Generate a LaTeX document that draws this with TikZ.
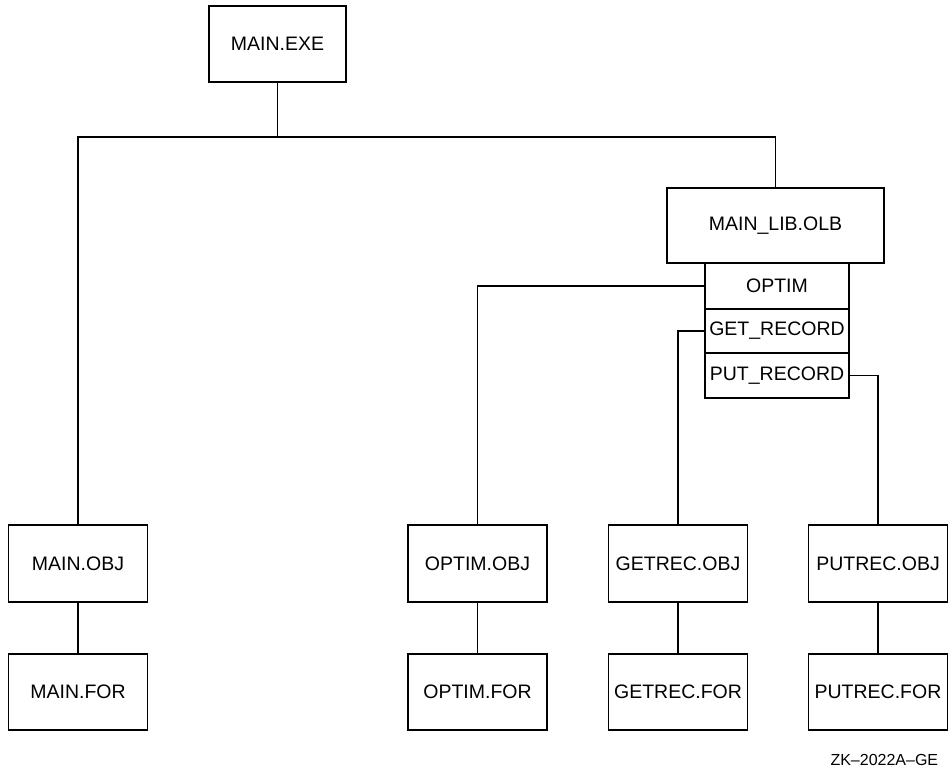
\documentclass[tikz,border=0pt]{standalone}
\usepackage{fontspec}
\setmainfont{Liberation Sans}
\begin{document}
\begin{tikzpicture}[x=1pt,y=-1pt,
  line width=1.7pt,
  box/.style={draw, rectangle, inner sep=0pt, font=\fontsize{19.5}{22}\selectfont},
  filebox/.style={box, minimum width=139pt, minimum height=77pt},
  member/.style={box, minimum width=144pt},
  link/.style={draw, line width=1.7pt}]
  \useasboundingbox (0,0) rectangle (949,770);

  % top-level image and library
  \node[box, minimum width=137pt, minimum height=76pt] (exe) at (277.5,44) {MAIN.EXE};
  \node[box, minimum width=217pt, minimum height=75pt] (lib) at (775.5,225.5) {MAIN\_LIB.OLB};

  % library modules
  \node[member, minimum height=46pt] (optim) at (777,286) {OPTIM};
  \node[member, minimum height=44pt] (getrec) at (777,331) {GET\_RECORD};
  \node[member, minimum height=45pt] (putrec) at (777,375.5) {PUT\_RECORD};

  % object files
  \node[filebox] (mainobj)  at (78,563.5)  {MAIN.OBJ};
  \node[filebox] (optimobj) at (477.5,563.5) {OPTIM.OBJ};
  \node[filebox] (getobj)   at (678,563.5) {GETREC.OBJ};
  \node[filebox] (putobj)   at (878,563.5) {PUTREC.OBJ};

  % source files
  \node[filebox, minimum height=76pt] (mainfor)  at (78,692)  {MAIN.FOR};
  \node[filebox, minimum height=76pt] (optimfor) at (477.5,692) {OPTIM.FOR};
  \node[filebox, minimum height=76pt] (getfor)   at (678,692) {GETREC.FOR};
  \node[filebox, minimum height=76pt] (putfor)   at (878,692) {PUTREC.FOR};

  % connectors
  \coordinate (bus) at (277.5,137);
  \draw[link] (exe.south) -- (bus);
  \draw[link] (mainobj.north) |- (bus) -| (lib.north);
  \draw[link] (optim.west) -| (optimobj.north);
  \draw[link] (getrec.west) -| (getobj.north);
  \draw[link] (putrec.east) -| (putobj.north);
  \draw[link] (mainobj.south) -- (mainfor.north);
  \draw[link] (optimobj.south) -- (optimfor.north);
  \draw[link] (getobj.south) -- (getfor.north);
  \draw[link] (putobj.south) -- (putfor.north);

  % figure tag
  \node[anchor=base east, inner sep=0pt, font=\fontsize{16}{18}\selectfont] (tag) at (939,765) {ZK--2022A--GE};
\end{tikzpicture}
\end{document}
